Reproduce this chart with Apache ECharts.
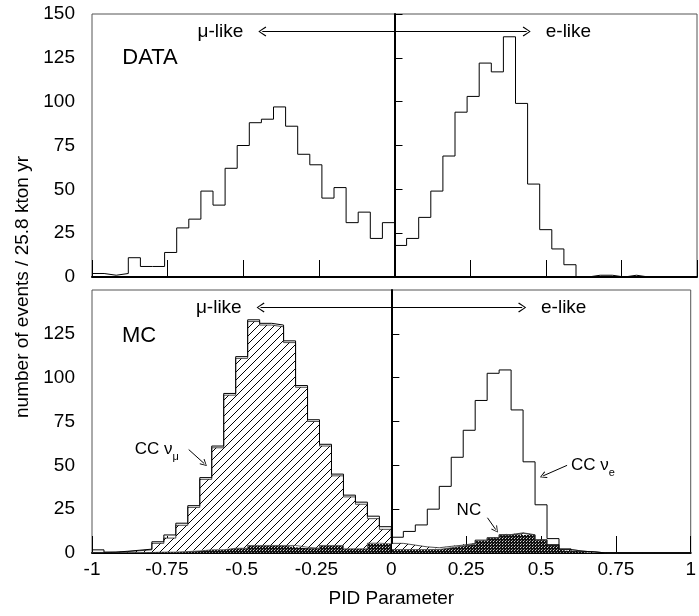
<!DOCTYPE html>
<html>
<head>
<meta charset="utf-8">
<script src="https://cdn.jsdelivr.net/npm/echarts@6/dist/echarts.min.js"></script>
<style>
html, body { margin: 0; padding: 0; background: #fff; }
#main { width: 699px; height: 616px; }
</style>
</head>
<body>
<div id="main"></div>
<script>
// bin edges of the PID histogram (50 bins, -1 .. 1)
var binEdges = [-1, -0.96, -0.92, -0.88, -0.84, -0.8, -0.76, -0.72, -0.68, -0.64,
	-0.6, -0.56, -0.52, -0.48, -0.44, -0.4, -0.36, -0.32, -0.28, -0.24,
	-0.2, -0.16, -0.12, -0.08, -0.04, 0, 0.04, 0.08, 0.12, 0.16,
	0.2, 0.24, 0.28, 0.32, 0.36, 0.4, 0.44, 0.48, 0.52, 0.56,
	0.6, 0.64, 0.68, 0.72, 0.76, 0.8, 0.84, 0.88, 0.92, 0.96, 1];

// DATA (events per bin)
var dataCounts = [2, 1, 2, 11, 6, 6, 14, 28, 33, 49, 41, 62, 75, 88, 90, 97, 86, 70, 64, 45, 51, 31, 37, 22, 31,
	18, 22, 34, 49, 69, 94, 103, 122, 117, 137, 99, 53, 27, 16, 7, 0, 1, 1, 0, 1, 0, 0, 0, 0, 0];

// MC components (stacked: NC, CC numu, CC nue)
var mcNC = [0.3, 0.2, 0.3, 0.3, 0.3, 0.5, 0.5, 0.8, 1.2, 1.8, 1.8, 2.7, 2.7, 4.3, 4.3, 4.3, 4.3, 3.3, 2.7, 4.3, 4.3, 2.4, 2.4, 5.6, 5.2,
	2, 2, 2, 2, 3, 4, 5, 7, 8.5, 10.2, 11.2, 10.2, 7.4, 4.7, 2, 1, 0.6, 0, 0, 0, 0, 0, 0, 0, 0];
var mcNumu = [0, 0.3, 0.5, 1, 1.5, 5, 8, 15, 24.8, 40.2, 58.2, 87.3, 108.3, 127.7, 125.7, 124.7, 115.7, 91.2, 72.3, 56.7, 39.7, 29.6, 25.4, 14, 8.3,
	3.5, 2.5, 1.5, 1, 0.8, 0.5, 0.5, 0.4, 0.3, 0.3, 0.3, 0.2, 0.2, 0.1, 0.1, 0, 0, 0, 0, 0, 0, 0, 0, 0, 0];
var mcNue = [1.5, 0, 0.2, 0.3, 0.4, 0.9, 1.8, 1.2, 1, 1, 1, 1, 1, 1, 1, 1, 1, 1, 1, 1, 1, 1, 1.2, 1.4, 1.5,
	3.5, 7.8, 12.5, 22, 34.2, 50.1, 64.5, 79.6, 93.7, 93.9, 70.1, 41.6, 19.9, 3.4, 0.2, 0, 0, 0, 0, 0, 0, 0, 0, 0, 0];

var FONT = '"Liberation Sans", Arial, sans-serif';
var ARROW = 'path://M5,0L10,9L9,10L5,2L1,10L0,9Z';

// histogram values at every bin edge (last bin repeated for the right edge)
function steps(vals) {
	return binEdges.map(function(x, i) {
		return vals[Math.min(i, vals.length - 1)];
	});
}

// diagonal hatch
function hatchPattern() {
	var c = document.createElement('canvas');
	c.width = 8; c.height = 8;
	var g = c.getContext('2d');
	g.fillStyle = '#fff';
	g.fillRect(0, 0, 8, 8);
	g.strokeStyle = '#000';
	g.lineWidth = 1;
	g.beginPath();
	g.moveTo(0, 8); g.lineTo(8, 0);
	g.moveTo(-1, 1); g.lineTo(1, -1);
	g.moveTo(7, 9); g.lineTo(9, 7);
	g.stroke();
	return c;
}

// dark dotted fill
function dotPattern() {
	var c = document.createElement('canvas');
	c.width = 3; c.height = 3;
	var g = c.getContext('2d');
	g.fillStyle = '#111';
	g.fillRect(0, 0, 3, 3);
	g.fillStyle = '#ddd';
	g.fillRect(1, 1, 1, 1);
	g.fillStyle = '#888';
	g.fillRect(2, 0, 1, 1);
	return c;
}

function text(coord, str, pos, size) {
	return {
		coord: coord,
		label: {show: true, position: pos, distance: 0, formatter: str, fontSize: size, fontFamily: FONT, color: '#000'}
	};
}

function subText(coord, main, sub) {
	return {
		coord: coord,
		label: {
			show: true, position: 'right', distance: 0,
			formatter: '{a|' + main + '}{b|' + sub + '}',
			rich: {
				a: {fontSize: 17, fontFamily: FONT, color: '#000', lineHeight: 26},
				b: {fontSize: 11, fontFamily: FONT, color: '#000', lineHeight: 11, verticalAlign: 'bottom'}
			}
		}
	};
}

function arrowLine(a, b, size) {
	return [{coord: a, symbol: 'none'}, {coord: b, symbol: ARROW, symbolSize: size}];
}

// visible value axis (ticks, labels)
function valueXAxis(idx, labels) {
	return {
		type: 'value', gridIndex: idx, min: -1, max: 1, interval: 0.25,
		axisLine: {show: true, onZero: false, lineStyle: {color: '#000', width: 2}},
		axisTick: {show: true, inside: true, length: 17, lineStyle: {color: '#000', width: 1}},
		axisLabel: {show: labels, fontSize: 19, fontFamily: FONT, color: '#000', margin: 7},
		splitLine: {show: false},
		name: labels ? 'PID Parameter' : '',
		nameLocation: 'middle', nameGap: 36,
		nameTextStyle: {fontSize: 19, fontFamily: FONT, color: '#000'}
	};
}

// hidden category axis on the bin edges (for the histogram steps)
function binXAxis(idx) {
	return {type: 'category', gridIndex: idx, data: binEdges.map(String), boundaryGap: false, show: false};
}

function yAxis(idx, showMax) {
	return {
		type: 'value', gridIndex: idx, min: 0, max: 150, interval: 25,
		axisLine: {show: true, lineStyle: {color: '#000', width: 2}},
		axisTick: {show: true, inside: true, length: 8, lineStyle: {color: '#000', width: 1}},
		axisLabel: {fontSize: 19, fontFamily: FONT, color: '#000', margin: 17, showMaxLabel: showMax},
		splitLine: {show: false}
	};
}

function markLines(extra) {
	return {
		silent: true, symbol: 'none', label: {show: false},
		lineStyle: {color: '#000', width: 1, type: 'solid'},
		emphasis: {disabled: true},
		data: [
			[{coord: [0, 0]}, {coord: [0, 145]}],
			[{coord: [-0.437, 140], symbol: ARROW, symbolSize: [10, 8]}, {coord: [0.437, 140], symbol: ARROW, symbolSize: [10, 8]}]
		].concat(extra)
	};
}

var chart = echarts.init(document.getElementById('main'));

var option = {
	animation: false,
	grid: [
		{left: 92, right: 2, top: 14, height: 263, show: true, borderColor: '#555', borderWidth: 1},
		{left: 92, right: 2, top: 290, height: 263, show: true, borderColor: '#555', borderWidth: 1}
	],
	xAxis: [valueXAxis(0, false), valueXAxis(1, true), binXAxis(0), binXAxis(1)],
	yAxis: [yAxis(0, true), yAxis(1, false)],
	graphic: [{
		type: 'text', x: 23, y: 287, rotation: Math.PI / 2,
		style: {text: 'number of events / 25.8 kton yr', fontSize: 19, fontFamily: FONT, fill: '#000', align: 'center', verticalAlign: 'middle'}
	}],
	series: [
		{
			name: 'DATA', type: 'line', xAxisIndex: 2, yAxisIndex: 0,
			step: 'end', symbol: 'none', data: steps(dataCounts),
			lineStyle: {color: '#000', width: 1}
		},
		{
			name: 'NC', type: 'line', xAxisIndex: 3, yAxisIndex: 1, stack: 'mc',
			step: 'end', symbol: 'none', data: steps(mcNC),
			lineStyle: {color: '#444', width: 0.8},
			areaStyle: {color: {image: dotPattern(), repeat: 'repeat'}, opacity: 1}
		},
		{
			name: 'CC numu', type: 'line', xAxisIndex: 3, yAxisIndex: 1, stack: 'mc',
			step: 'end', symbol: 'none', data: steps(mcNumu),
			lineStyle: {color: '#222', width: 0.8},
			areaStyle: {color: {image: hatchPattern(), repeat: 'repeat'}, opacity: 1}
		},
		{
			name: 'CC nue', type: 'line', xAxisIndex: 3, yAxisIndex: 1, stack: 'mc',
			step: 'end', symbol: 'none', data: steps(mcNue),
			lineStyle: {color: '#000', width: 1}
		},
		// annotations, on the value axes
		{
			name: 'notes top', type: 'line', xAxisIndex: 0, yAxisIndex: 0, data: [],
			markLine: markLines([]),
			markPoint: {
				symbol: 'circle', symbolSize: 0, silent: true,
				data: [
					text([-0.5, 140], 'μ-like', 'left', 19),
					text([0.5, 140], 'e-like', 'right', 19),
					text([-0.9, 125], 'DATA', 'right', 22)
				]
			}
		},
		{
			name: 'notes bottom', type: 'line', xAxisIndex: 1, yAxisIndex: 1, data: [],
			markLine: markLines([
				arrowLine([-0.677, 59], [-0.625, 51], [7, 7]),
				arrowLine([0.587, 50], [0.507, 44], [7, 7]),
				arrowLine([0.321, 20.1], [0.349, 13.3], [7, 7])
			]),
			markPoint: {
				symbol: 'circle', symbolSize: 0, silent: true,
				data: [
					text([-0.5, 140], 'μ-like', 'left', 19),
					text([0.5, 140], 'e-like', 'right', 19),
					text([-0.9, 124], 'MC', 'right', 22),
					subText([-0.857, 59], 'CC ν', 'μ'),
					subText([0.6, 50], 'CC ν', 'e'),
					text([0.218, 24.5], 'NC', 'right', 17)
				]
			}
		}
	]
};

chart.setOption(option);
</script>
</body>
</html>
